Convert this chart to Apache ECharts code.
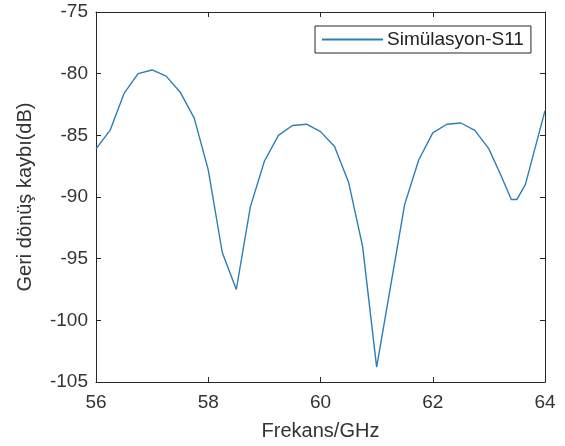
<!DOCTYPE html>
<html>
<head>
<meta charset="utf-8">
<script src="https://cdn.jsdelivr.net/npm/echarts@6/dist/echarts.min.js"></script>
<style>
  html, body { margin: 0; padding: 0; background: #fff; }
  #main { width: 565px; height: 446px; }
</style>
</head>
<body>
<div id="main"></div>
<script>
// frequency (GHz) and S11 (dB)
var freq = [56, 56.25, 56.5, 56.75, 57, 57.25, 57.5, 57.75, 58, 58.25, 58.5, 58.75,
            59, 59.25, 59.5, 59.75, 60, 60.25, 60.5, 60.75, 61, 61.25, 61.5, 61.75,
            62, 62.25, 62.5, 62.75, 63, 63.2, 63.4, 63.5, 63.65, 64];
var s11 = [-86.1, -84.6, -81.6, -80.0, -79.7, -80.2, -81.5, -83.6, -87.8, -94.5, -97.5, -90.8,
           -87.1, -85.0, -84.2, -84.1, -84.7, -85.9, -88.8, -94.0, -103.8, -97.2, -90.6, -87.0,
           -84.8, -84.1, -84.0, -84.6, -86.1, -88.1, -90.2, -90.2, -89.0, -83.0];
var seriesName = 'Simülasyon-S11';

var pts = [];
for (var i = 0; i < freq.length; i++) {
  pts.push([freq[i], s11[i]]);
}

var axisCol = '#262626';
var font = 'Liberation Sans, Arial, sans-serif';

var chart = echarts.init(document.getElementById('main'));
chart.setOption({
  animation: false,
  grid: { left: 96, top: 12, right: 20, bottom: 64 },
  legend: {
    data: [seriesName],
    left: 315, top: 26,
    padding: [4, 7, 4, 7],
    itemWidth: 61, itemHeight: 2, icon: 'rect',
    itemGap: 4,
    borderColor: axisCol, borderWidth: 1,
    backgroundColor: '#fff',
    textStyle: { fontFamily: font, fontSize: 19, color: '#222', padding: [0, 0, 0, -1] }
  },
  xAxis: [{
    type: 'value', min: 56, max: 64, interval: 2,
    name: 'Frekans/GHz', nameLocation: 'middle', nameGap: 39,
    nameTextStyle: { fontFamily: font, fontSize: 20, color: '#333' },
    axisLine: { lineStyle: { color: axisCol, width: 1 } },
    axisTick: { inside: true, length: 5, lineStyle: { color: axisCol } },
    axisLabel: { fontFamily: font, fontSize: 19, color: '#333', margin: 11 },
    splitLine: { show: false }
  }, {
    type: 'value', min: 56, max: 64, interval: 2, position: 'top',
    axisLine: { show: true, lineStyle: { color: axisCol, width: 1 } },
    axisTick: { inside: true, length: 5, lineStyle: { color: axisCol } },
    axisLabel: { show: false },
    splitLine: { show: false }
  }],
  yAxis: [{
    type: 'value', min: -105, max: -75, interval: 5,
    name: 'Geri dönüş kaybı(dB)', nameLocation: 'middle', nameGap: 61,
    nameTextStyle: { fontFamily: font, fontSize: 20, color: '#333' },
    axisLine: { show: true, lineStyle: { color: axisCol, width: 1 } },
    axisTick: { inside: true, length: 5, lineStyle: { color: axisCol } },
    axisLabel: { fontFamily: font, fontSize: 19, color: '#333', margin: 8 },
    splitLine: { show: false }
  }, {
    type: 'value', min: -105, max: -75, interval: 5, position: 'right',
    axisLine: { show: true, lineStyle: { color: axisCol, width: 1 } },
    axisTick: { inside: true, length: 5, lineStyle: { color: axisCol } },
    axisLabel: { show: false },
    splitLine: { show: false }
  }],
  series: [{
    name: seriesName,
    type: 'line',
    data: pts,
    showSymbol: false,
    smooth: false,
    lineStyle: { color: '#2b7fb5', width: 1.4 },
    itemStyle: { color: '#2b7fb5' }
  }]
});
</script>
</body>
</html>
